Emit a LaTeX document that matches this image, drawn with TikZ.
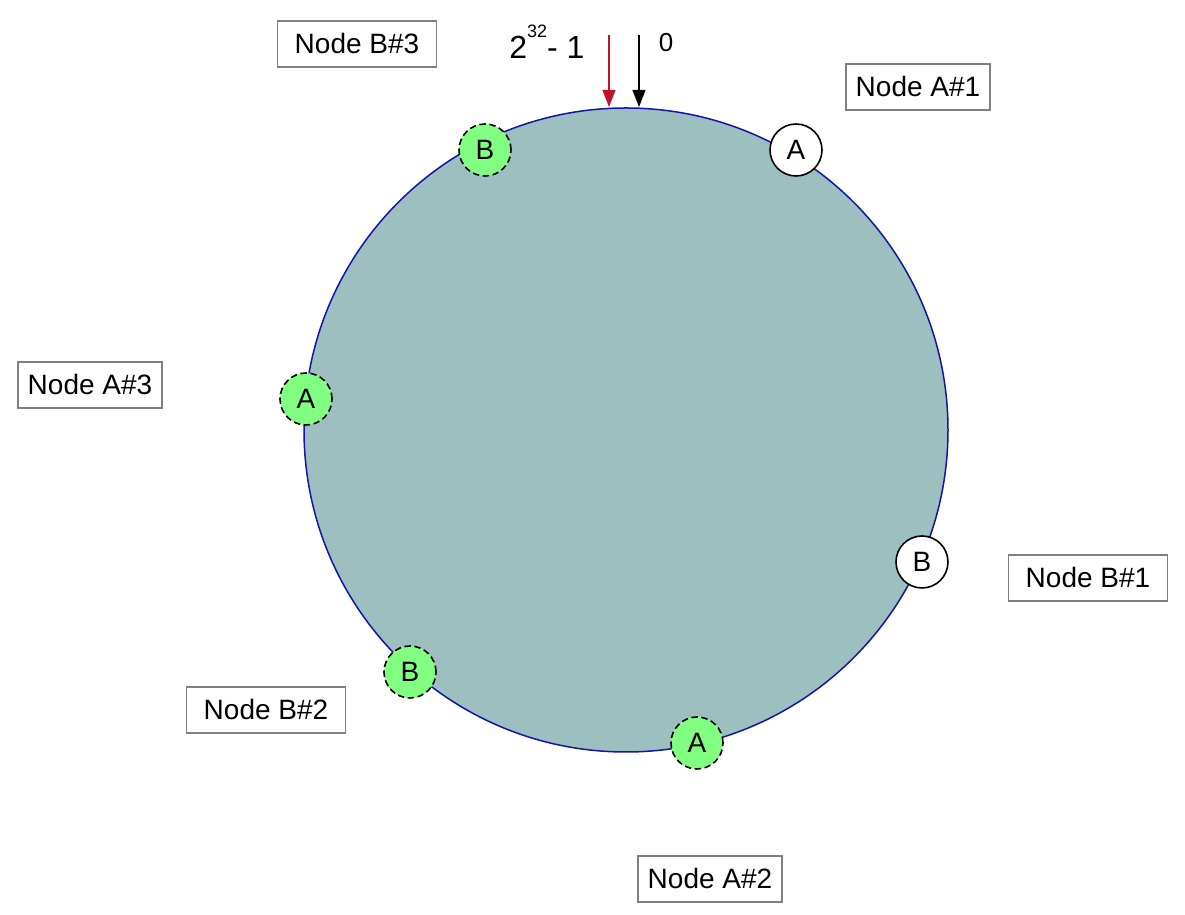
\documentclass[tikz,border=0pt]{standalone}
\usepackage{fontspec}
\setmainfont{Liberation Sans}
\usetikzlibrary{arrows.meta}
\definecolor{ringfill}{RGB}{157,191,191}
\definecolor{ringline}{RGB}{20,20,170}
\definecolor{vgreen}{RGB}{128,255,128}
\definecolor{hashred}{RGB}{190,20,40}

\begin{document}
\begin{tikzpicture}[x=0.5pt,y=0.5pt,
  namebox/.style={draw=black!50,fill=white,line width=0.7pt,minimum height=23pt,inner sep=0pt,font=\fontsize{14}{16}\selectfont},
  realnode/.style={circle,draw=black,fill=white,line width=0.8pt,minimum size=26pt,inner sep=0pt,font=\fontsize{14}{16}\selectfont},
  virtnode/.style={realnode,fill=vgreen,dash pattern=on 3.2pt off 1.8pt},
  hasharrow/.style={line width=0.7pt,-{Triangle[length=8.5pt,width=6.5pt]}}]
\useasboundingbox (0,0) rectangle (1185,915);

% ring
\draw[fill=ringfill,draw=ringline,line width=0.75pt] (626,485) circle (322);

% start of the hash space
\coordinate (top0) at (639,808);
\coordinate (topmax) at (609,808);
\draw[hasharrow,hashred] (609,880) -- (topmax);
\draw[hasharrow,black] (639,880) -- (top0);
\node[anchor=base west,inner sep=0pt,font=\fontsize{16}{18}\selectfont] (maxlbl) at (509,856) {2\raisebox{10.5pt}{\fontsize{9}{10}\selectfont 32}- 1};
\node[inner sep=0pt,font=\fontsize{13}{15}\selectfont] (zerolbl) at (666,872) {0};

% nodes on the ring
\node[realnode] (a1) at (796,765) {A};
\node[realnode] (b1) at (922,353) {B};
\node[virtnode] (b3) at (485,765) {B};
\node[virtnode] (a3) at (306,516) {A};
\node[virtnode] (b2) at (410,243) {B};
\node[virtnode] (a2) at (697,172) {A};

% names
\foreach \n/\x/\y/\w/\t in {nb3/357/871/79.5/B\#3, na1/918/828/72/A\#1, na3/90/530/72/A\#3,
  nb1/1088/337/79.5/B\#1, nb2/266/205/79.5/B\#2, na2/710/36/72/A\#2}{
\node[namebox,minimum width=\w pt] (\n) at (\x,\y) {Node \t};
}
\end{tikzpicture}
\end{document}
